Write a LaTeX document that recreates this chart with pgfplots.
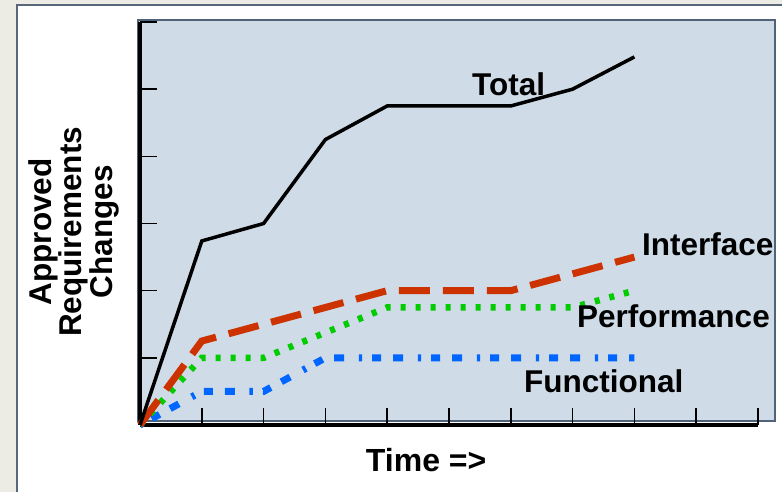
\documentclass[border=0pt]{standalone}
\usepackage{fontspec}
\setmainfont{Liberation Sans}
\usepackage{pgfplots}
\pgfplotsset{compat=1.18}
\definecolor{bgbeige}{RGB}{236,235,228}
\definecolor{panelborder}{RGB}{88,104,122}
\definecolor{plotfill}{RGB}{207,219,231}
\definecolor{plotborder}{RGB}{80,99,120}
\definecolor{ifred}{RGB}{204,51,0}
\definecolor{pfgreen}{RGB}{0,204,0}
\definecolor{fnblue}{RGB}{0,102,255}
\begin{document}
\begin{tikzpicture}[x=1pt,y=1pt]
\useasboundingbox (0,0) rectangle (782,492);
\fill[bgbeige] (0,0) rectangle (782,492);
\filldraw[fill=white,draw=panelborder,line width=1.5pt] (17,-10) rectangle (800,487);
\filldraw[fill=plotfill,draw=plotborder,line width=1.5pt] (138,71) rectangle (775,472);
\begin{axis}[
  at={(140pt,67pt)}, anchor=south west,
  scale only axis, width=618pt, height=403pt,
  xmin=0, xmax=10, ymin=0, ymax=6,
  axis x line=bottom, axis y line=left,
  axis line style={-, black, line width=3.5pt},
  xtick={1,2,3,4,5,6,7,8,9,10}, ytick={1,2,3,4,5,6},
  xticklabels={}, yticklabels={},
  tick align=inside, major tick length=17pt,
  tick style={black, line width=1.5pt},
  clip=false,
  xlabel={Time =>},
  xlabel style={at={(axis description cs:0.463,-0.1166)}, anchor=base, inner sep=0pt, font=\bfseries\fontsize{32}{36}\selectfont},
  ylabel={Approved\\Requirements\\Changes},
  ylabel style={at={(axis description cs:-0.107,0.479)}, anchor=center, rotate=0, align=center, inner sep=0pt, font=\bfseries\fontsize{31.5}{27.5}\selectfont},
]
\addplot[fnblue, line width=7pt, dash pattern=on 3.3pt off 10pt on 9pt off 12pt on 10pt off 14.7pt] coordinates {
(0,0)(1,0.5)(2,0.5)(3,1.0)(4,1.0)(5,1.0)(6,1.0)(7,1.0)(8,1.0)};
\addplot[pfgreen, line width=6.5pt, dash pattern=on 5pt off 10pt] coordinates {
(0,0)(1,1.0)(2,1.0)(3,1.375)(4,1.75)(5,1.75)(6,1.75)(7,1.75)(8,2.0)};
\addplot[ifred, line width=7pt, dash pattern=on 31pt off 13pt] coordinates {
(0,0)(1,1.25)(2,1.5)(3,1.75)(4,2.0)(5,2.0)(6,2.0)(7,2.25)(8,2.5)};
\addplot[black, line width=3.5pt] coordinates {
(0,0)(1,2.74)(2,3.0)(3,4.25)(4,4.75)(5,4.75)(6,4.75)(7,5.0)(8,5.48)};
\end{axis}
\begin{scope}[every node/.style={inner sep=0pt, anchor=base west, font=\bfseries\fontsize{31.5}{36}\selectfont}]
\node at (472,396) {Total};
\node at (642,236) {Interface};
\node at (577,164) {Performance};
\node at (524,99) {Functional};
\end{scope}
\end{tikzpicture}
\end{document}
